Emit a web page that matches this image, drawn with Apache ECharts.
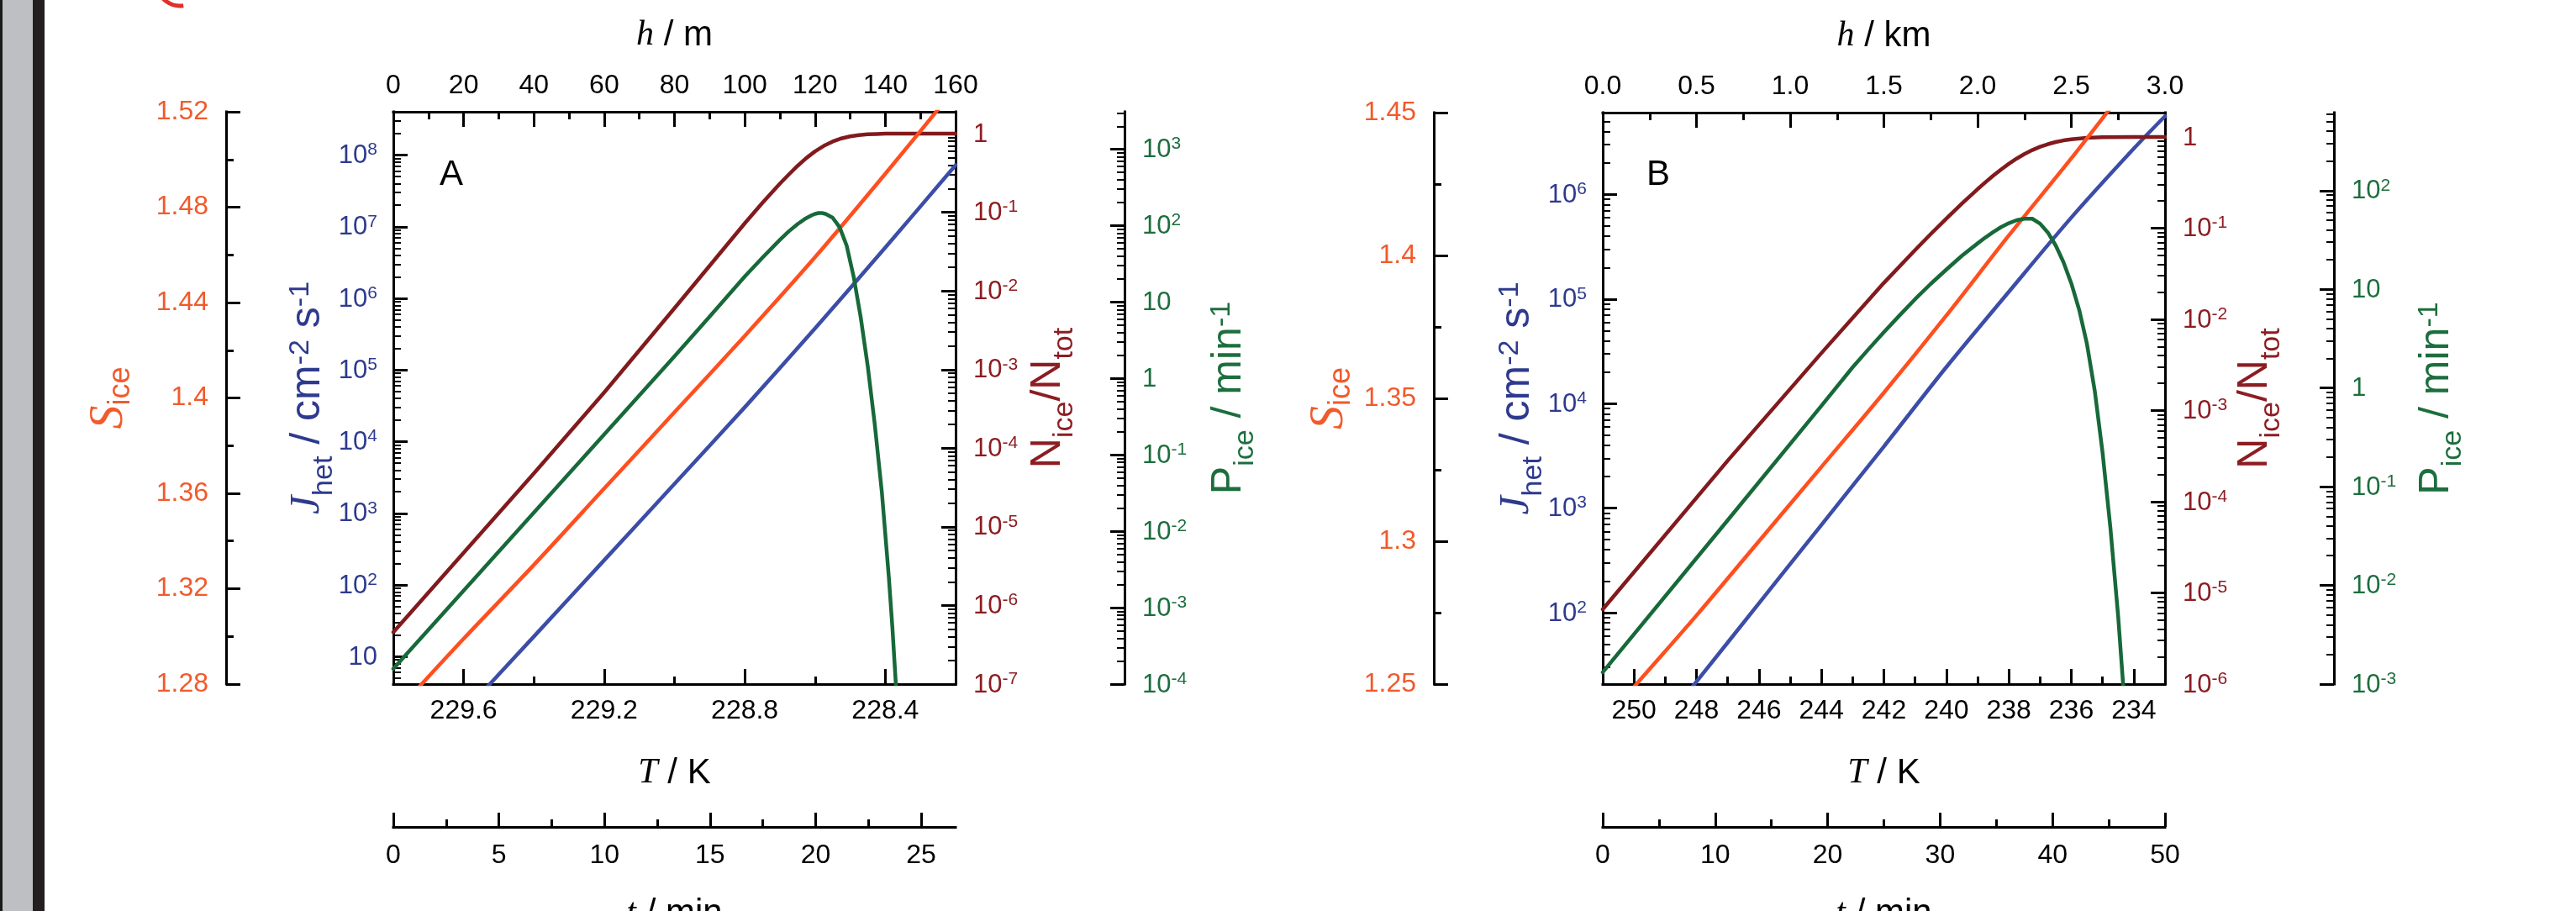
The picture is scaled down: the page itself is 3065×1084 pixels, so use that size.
<!DOCTYPE html>
<html><head><meta charset="utf-8">
<script src="https://cdn.jsdelivr.net/npm/echarts@6/dist/echarts.min.js"></script>
<style>html,body{margin:0;padding:0;background:#fff;}#c{width:3065px;height:1084px;}</style>
</head><body><div id="c"></div>
<script>
// ================= DATA =================
// Panel A  (x = temperature T / K; log quantities stored as log10 exponents)
const tempA_S   = [229.8, 229.6, 229.4, 229.2, 229.0, 228.8, 228.6, 228.4, 228.2];
const sIceA     = [1.267, 1.299, 1.330, 1.362, 1.394, 1.426, 1.459, 1.494, 1.530];
const tempA_J   = [229.8, 229.6, 229.4, 229.2, 229.0, 228.8, 228.6, 228.4, 228.2];
const jHetA_exp = [-0.84, 0.22, 1.28, 2.345, 3.41, 4.48, 5.58, 6.71, 7.86];
const tempA_N   = [229.8, 229.6, 229.4, 229.2, 229.0, 228.9, 228.8, 228.75, 228.7, 228.675, 228.65, 228.625, 228.6, 228.575, 228.55, 228.525, 228.5, 228.475, 228.45, 228.425, 228.4, 228.3, 228.2];
const nIceA_exp = [-6.34, -5.33, -4.32, -3.29, -2.22, -1.68, -1.14, -0.88, -0.635, -0.52, -0.41, -0.31, -0.225, -0.155, -0.10, -0.06, -0.033, -0.017, -0.008, -0.003, 0, 0, 0];
const tempA_P   = [229.8, 229.0, 228.9, 228.8, 228.75, 228.7, 228.675, 228.65, 228.63, 228.61, 228.6, 228.59, 228.58, 228.57, 228.55, 228.53, 228.51, 228.49, 228.47, 228.45, 228.43, 228.41, 228.39, 228.38, 228.37, 228.36];
const pIceA_exp = [-3.80, 0.29, 0.81, 1.335, 1.58, 1.815, 1.925, 2.02, 2.085, 2.135, 2.155, 2.165, 2.165, 2.155, 2.105, 1.98, 1.74, 1.33, 0.80, 0.16, -0.60, -1.48, -2.60, -3.25, -4.0, -4.8];

// Panel B
const tempB_S   = [251, 250, 248, 246, 244, 242, 240, 238, 236, 234, 233];
const sIceB     = [1.236, 1.249, 1.274, 1.300, 1.326, 1.352, 1.379, 1.407, 1.434, 1.462, 1.475];
const tempB_J   = [251, 250, 248, 246, 244, 242, 240, 238, 236, 234, 233];
const jHetB_exp = [0.22, 0.60, 1.34, 2.09, 2.84, 3.59, 4.35, 5.07, 5.78, 6.44, 6.75];
const tempB_N   = [251, 247, 244, 242, 241, 240.5, 240, 239.5, 239, 238.75, 238.5, 238.25, 238, 237.75, 237.5, 237.25, 237, 236.75, 236.5, 236.25, 236, 235.5, 235, 234, 233];
const nIceB_exp = [-5.18, -3.55, -2.37, -1.60, -1.24, -1.065, -0.895, -0.73, -0.572, -0.497, -0.425, -0.357, -0.294, -0.237, -0.187, -0.144, -0.108, -0.079, -0.056, -0.038, -0.025, -0.01, -0.003, 0, 0];
const tempB_P   = [251, 247, 244, 243, 242.5, 242, 241.5, 241, 240.5, 240, 239.5, 239, 238.75, 238.5, 238.25, 238, 237.75, 237.5, 237.25, 237, 236.75, 236.5, 236.25, 236, 235.75, 235.5, 235.25, 235, 234.75, 234.5, 234.25, 234];
const pIceB_exp = [-2.88, -1.34, -0.18, 0.21, 0.39, 0.565, 0.735, 0.90, 1.055, 1.20, 1.34, 1.465, 1.525, 1.58, 1.63, 1.67, 1.70, 1.715, 1.715, 1.665, 1.575, 1.445, 1.275, 1.06, 0.795, 0.448, -0.027, -0.652, -1.412, -2.312, -3.40, -4.70];

// ---- tick values / labels ----
const tLabelsA = [229.6, 229.2, 228.8, 228.4];
const tMinorA  = [229.4, 229.0, 228.6];
const hTicksA  = [0, 20, 40, 60, 80, 100, 120, 140, 160];
const hMinorA  = [10, 30, 50, 70, 90, 110, 130, 150];
const timeTicksA = [0, 5, 10, 15, 20, 25];
const timeMinorA = [2.5, 7.5, 12.5, 17.5, 22.5];
const sTicksA  = [1.28, 1.32, 1.36, 1.4, 1.44, 1.48, 1.52];
const sMinorA  = [1.30, 1.34, 1.38, 1.42, 1.46, 1.50];
const jExpA    = [1, 2, 3, 4, 5, 6, 7, 8];
const nExpA    = [-7, -6, -5, -4, -3, -2, -1, 0];
const pExpA    = [-4, -3, -2, -1, 0, 1, 2, 3];

const tLabelsB = [250, 248, 246, 244, 242, 240, 238, 236, 234];
const tMinorB  = [249, 247, 245, 243, 241, 239, 237, 235];
const hTicksB  = [0, 0.5, 1.0, 1.5, 2.0, 2.5, 3.0];
const hMinorB  = [0.25, 0.75, 1.25, 1.75, 2.25, 2.75];
const timeTicksB = [0, 10, 20, 30, 40, 50];
const timeMinorB = [5, 15, 25, 35, 45];
const sTicksB  = [1.25, 1.3, 1.35, 1.4, 1.45];
const sMinorB  = [1.275, 1.325, 1.375, 1.425];
const jExpB    = [2, 3, 4, 5, 6];
const nExpB    = [-6, -5, -4, -3, -2, -1, 0];
const pExpB    = [-3, -2, -1, 0, 1, 2];

// ================= STYLE =================
const FONT  = "'Liberation Sans', Arial, Helvetica, sans-serif";
const SERIF = "'Liberation Serif', 'Times New Roman', serif";
const BLACK = '#000';
const C = {
  orange: '#FF4F1F', orangeTxt: '#F15A2B',
  blue: '#3C4DA7',  blueTxt: '#2E3A8E',
  brown: '#821A1D', brownTxt: '#8C1D22',
  green: '#17693A', greenTxt: '#1C6E3E'
};

function logMinors(min, max) {
  const out = [];
  for (let e = Math.floor(min) - 1; e <= Math.ceil(max); e++)
    for (let m = 2; m <= 9; m++) { const v = e + Math.log10(m); if (v > min + 1e-6 && v < max - 1e-6) out.push(v); }
  return out;
}
function base(g, pos, min, max, offset, inverse) {
  return {type: 'value', gridIndex: g, position: pos, offset: offset || 0, min: min, max: max, inverse: !!inverse,
    splitLine: {show: false}, minorTick: {show: false}, minorSplitLine: {show: false}, splitArea: {show: false},
    nameMoveOverlap: false, silent: true, axisPointer: {show: false}};
}
function line(a, show) { a.axisLine = {show: show, onZero: false, lineStyle: {color: BLACK, width: 3, cap: 'square'}}; return a; }
function ticks(a, vals, len, w) { a.axisTick = {show: true, inside: true, length: len, customValues: vals, lineStyle: {color: BLACK, width: w}}; return a; }
function labels(a, vals, opt) { a.axisLabel = Object.assign({show: true, customValues: vals, fontFamily: FONT, fontSize: 32, color: BLACK}, opt); return a; }
function nolabels(a) { a.axisLabel = {show: false}; return a; }
function expLabel(color, margin) {
  return {
    margin: margin,
    formatter: function (v) { const e = Math.round(v); if (e === 0) return '{b|1}'; if (e === 1) return '{b|10}'; return '{b|10}{s|' + e + '}'; },
    rich: {
      b: {fontSize: 31, lineHeight: 33, verticalAlign: 'bottom', color: color, fontFamily: FONT},
      s: {fontSize: 21, lineHeight: 22, padding: [0, 0, 22, 0], verticalAlign: 'top', color: color, fontFamily: FONT}
    }
  };
}
function nameRich(color, big) {
  const sm = Math.round(big * 0.68), pd = Math.round(big * 0.56);
  return {
    i: {fontFamily: SERIF, fontStyle: 'italic', fontSize: big, lineHeight: big, verticalAlign: 'middle', color: color},
    n: {fontFamily: FONT, fontSize: big, lineHeight: big, verticalAlign: 'middle', color: color},
    sub: {fontFamily: FONT, fontSize: sm, lineHeight: sm, padding: [pd, 0, 0, 0], verticalAlign: 'top', color: color},
    sup: {fontFamily: FONT, fontSize: sm, lineHeight: sm, padding: [0, 0, pd, 0], verticalAlign: 'top', color: color}
  };
}
function sRich(color) {
  return {
    i: {fontFamily: SERIF, fontStyle: 'italic', fontSize: 56, lineHeight: 56, verticalAlign: 'middle', color: color},
    sub: {fontFamily: FONT, fontSize: 36, lineHeight: 36, padding: [24, 0, 0, 0], verticalAlign: 'top', color: color}
  };
}
function setName(a, text, gap, rich, rotate) {
  a.name = text; a.nameLocation = 'middle'; a.nameGap = gap;
  if (rotate != null) a.nameRotate = rotate;
  a.nameTextStyle = {rich: rich}; return a;
}

const grids = [], xAxes = [], yAxes = [], series = [];

function panel(g, P) {
  grids.push({left: P.left, top: P.top, width: 669, height: P.height, containLabel: false, outerBoundsMode: 'none', show: false});
  const xT = xAxes.length;
  let a = base(g, 'bottom', P.tRange[0], P.tRange[1], 0, true);
  line(a, true); ticks(a, P.tLabels, 18, 3); labels(a, P.tLabels, {margin: 16, formatter: P.tFmt});
  setName(a, '{i|T}{n| / K}', P.gapT, nameRich(BLACK, 42)); xAxes.push(a);
  a = base(g, 'bottom', P.tRange[0], P.tRange[1], 0, true);
  line(a, false); ticks(a, P.tMinor, 9, 3); nolabels(a); xAxes.push(a);
  a = base(g, 'top', P.hRange[0], P.hRange[1], 0, false);
  line(a, true); ticks(a, P.hTicks, 18, 3); labels(a, P.hTicks, {margin: 15, formatter: P.hFmt});
  setName(a, '{i|h}{n| / ' + P.hUnit + '}', P.gapH, nameRich(BLACK, 42)); xAxes.push(a);
  a = base(g, 'top', P.hRange[0], P.hRange[1], 0, false);
  line(a, false); ticks(a, P.hMinor, 9, 3); nolabels(a); xAxes.push(a);
  a = base(g, 'bottom', P.timeRange[0], P.timeRange[1], 170, false);
  line(a, true); ticks(a, P.timeTicks, 17, 3); labels(a, P.timeTicks, {margin: 18});
  setName(a, '{i|t}{n| / min}', 82, nameRich(BLACK, 42)); xAxes.push(a);
  a = base(g, 'bottom', P.timeRange[0], P.timeRange[1], 170, false);
  line(a, false); ticks(a, P.timeMinor, 9, 3); nolabels(a); xAxes.push(a);

  const yJ = yAxes.length;
  a = base(g, 'left', P.jRange[0], P.jRange[1], 0);
  line(a, true); ticks(a, P.jExp, 17, 3); labels(a, P.jExp, expLabel(C.blueTxt, 19));
  setName(a, '{i|J}{sub|het}{n| / cm}{sup|-2}{n| s}{sup|-1}', 77, nameRich(C.blueTxt, 50), 90); yAxes.push(a);
  a = base(g, 'left', P.jRange[0], P.jRange[1], 0);
  line(a, false); ticks(a, logMinors(P.jRange[0], P.jRange[1]), 9, 2); nolabels(a); yAxes.push(a);

  const yN = yAxes.length;
  a = base(g, 'right', P.nRange[0], P.nRange[1], 0);
  line(a, true); ticks(a, P.nExp, 17, 3); labels(a, P.nExp, expLabel(C.brownTxt, 21));
  setName(a, '{n|N}{sub|ice}{n|/N}{sub|tot}', P.gapN, nameRich(C.brownTxt, 50), 90); yAxes.push(a);
  a = base(g, 'right', P.nRange[0], P.nRange[1], 0);
  line(a, false); ticks(a, logMinors(P.nRange[0], P.nRange[1]), 9, 2); nolabels(a); yAxes.push(a);

  const yP = yAxes.length;
  a = base(g, 'right', P.pRange[0], P.pRange[1], P.pOffset);
  line(a, true); ticks(a, P.pExp, 17, 3); labels(a, P.pExp, expLabel(C.greenTxt, 21));
  setName(a, '{n|P}{sub|ice}{n| / min}{sup|-1}', P.gapP, nameRich(C.greenTxt, 50), 90); yAxes.push(a);
  a = base(g, 'right', P.pRange[0], P.pRange[1], P.pOffset);
  line(a, false); ticks(a, logMinors(P.pRange[0], P.pRange[1]), 9, 2); nolabels(a); yAxes.push(a);

  const yS = yAxes.length;
  a = base(g, 'left', P.sRange[0], P.sRange[1], P.sOffset);
  line(a, true); ticks(a, P.sTicks, 17, 3); labels(a, P.sTicks, {margin: 21, color: C.orangeTxt, fontSize: 32});
  setName(a, '{i|S}{sub|ice}', P.gapS, sRich(C.orangeTxt), 90); yAxes.push(a);
  a = base(g, 'left', P.sRange[0], P.sRange[1], P.sOffset);
  line(a, false); ticks(a, P.sMinor, 9, 3); nolabels(a); yAxes.push(a);

  function ser(yi, xs, ys, color, z, smooth) {
    return {type: 'line', xAxisIndex: xT, yAxisIndex: yi, data: xs.map(function (x, i) { return [x, ys[i]]; }),
      showSymbol: false, symbol: 'none', smooth: smooth, clip: true, silent: true, z: z,
      lineStyle: {color: color, width: 4.5, join: 'round', cap: 'round'}, itemStyle: {color: color}, emphasis: {disabled: true}};
  }
  series.push(ser(yJ, P.tJ, P.jVals, C.blue, 3, 0.3));
  series.push(ser(yN, P.tN, P.nVals, C.brown, 4, false));
  series.push(ser(yS, P.tS, P.sVals, C.orange, 5, 0.3));
  series.push(ser(yP, P.tP, P.pVals, C.green, 6, false));
}

panel(0, {
  left: 468, top: 133, height: 681,
  tRange: [228.2, 229.8], tLabels: tLabelsA, tMinor: tMinorA, tFmt: function (v) { return v.toFixed(1); },
  hRange: [0, 160], hTicks: hTicksA, hMinor: hMinorA, hUnit: 'm', hFmt: function (v) { return String(Math.round(v)); },
  timeRange: [0, 26.63], timeTicks: timeTicksA, timeMinor: timeMinorA,
  jRange: [0.616, 8.605], jExp: jExpA,
  nRange: [-7, 0.279], nExp: nExpA,
  pRange: [-4, 3.491], pExp: pExpA, pOffset: 201,
  sRange: [1.28, 1.52], sTicks: sTicksA, sMinor: sMinorA, sOffset: 199,
  gapT: 85, gapH: 70, gapN: 85, gapP: 99, gapS: 111,
  tS: tempA_S, sVals: sIceA, tJ: tempA_J, jVals: jHetA_exp, tN: tempA_N, nVals: nIceA_exp, tP: tempA_P, pVals: pIceA_exp
});
panel(1, {
  left: 1907, top: 134, height: 680,
  tRange: [233, 251], tLabels: tLabelsB, tMinor: tMinorB, tFmt: function (v) { return String(Math.round(v)); },
  hRange: [0, 3], hTicks: hTicksB, hMinor: hMinorB, hUnit: 'km', hFmt: function (v) { return v.toFixed(1); },
  timeRange: [0, 50], timeTicks: timeTicksB, timeMinor: timeMinorB,
  jRange: [1.317, 6.784], jExp: jExpB,
  nRange: [-6, 0.267], nExp: nExpB,
  pRange: [-3, 2.79], pExp: pExpB, pOffset: 201,
  sRange: [1.25, 1.45], sTicks: sTicksB, sMinor: sMinorB, sOffset: 201,
  gapT: 85, gapH: 70, gapN: 82, gapP: 97, gapS: 96,
  tS: tempB_S, sVals: sIceB, tJ: tempB_J, jVals: jHetB_exp, tN: tempB_N, nVals: nIceB_exp, tP: tempB_P, pVals: pIceB_exp
});

const chart = echarts.init(document.getElementById('c'), null, {renderer: 'canvas', width: 3065, height: 1084});
chart.setOption({
  animation: false,
  backgroundColor: '#fff',
  grid: grids, xAxis: xAxes, yAxis: yAxes, series: series,
  graphic: [
    {type: 'rect', shape: {x: 0, y: 0, width: 3, height: 1084}, style: {fill: '#1a1a1a'}, silent: true},
    {type: 'rect', shape: {x: 3, y: 0, width: 36, height: 1084}, style: {fill: '#BEBFC2'}, silent: true},
    {type: 'rect', shape: {x: 39, y: 0, width: 14, height: 1084}, style: {fill: '#231F20'}, silent: true},
    {type: 'arc', shape: {cx: 214, cy: -20, r: 27, startAngle: Math.PI * 0.45, endAngle: Math.PI * 1.0}, style: {stroke: '#E0302A', lineWidth: 5, fill: null}, silent: true},
    {type: 'text', x: 537, y: 208, style: {text: 'A', fontSize: 42, fontFamily: FONT, fill: BLACK, align: 'center', verticalAlign: 'middle'}, silent: true},
    {type: 'text', x: 1973, y: 208, style: {text: 'B', fontSize: 42, fontFamily: FONT, fill: BLACK, align: 'center', verticalAlign: 'middle'}, silent: true}
  ]
});
</script></body></html>
